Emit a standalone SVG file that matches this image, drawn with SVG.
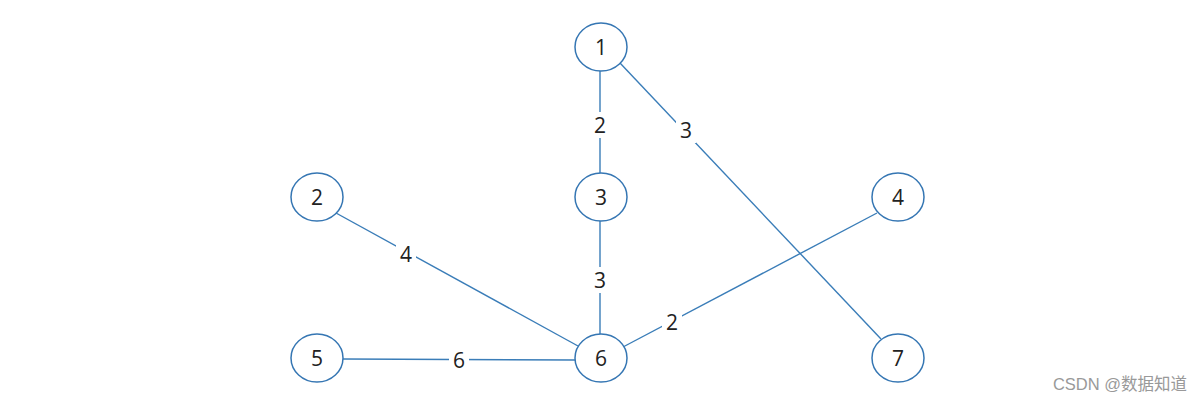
<svg xmlns="http://www.w3.org/2000/svg" width="1202" height="404" viewBox="0 0 1202 404">
<style>
.n ellipse{fill:#fff;stroke:#3576b3;stroke-width:1.5}
.n text,.lbl text{font-family:"Open Sans","Noto Sans",sans-serif;font-size:21px;fill:#222;text-anchor:middle;dominant-baseline:central}
.e line{stroke:#3a7db8;stroke-width:1.4}
.lbl rect{fill:#fff}
</style>
<rect width="1202" height="404" fill="#fff"/>
<g id="connectors">
<g class="e">
<line x1="600" y1="71" x2="600" y2="173"/>
<line x1="620" y1="63" x2="881" y2="339"/>
<line x1="336" y1="213" x2="578" y2="346"/>
<line x1="600" y1="221" x2="600" y2="334"/>
<line x1="623" y1="347" x2="877" y2="213"/>
<line x1="343" y1="359" x2="575" y2="360"/>
</g>
<g class="lbl">
<rect x="590" y="112" width="20" height="26"/><text x="600" y="125">2</text>
<rect x="676" y="117" width="20" height="26"/><text x="686" y="130">3</text>
<rect x="396" y="241" width="20" height="26"/><text x="406" y="254">4</text>
<rect x="590" y="267" width="20" height="26"/><text x="600" y="280">3</text>
<rect x="662" y="309" width="20" height="26"/><text x="672" y="322">2</text>
<rect x="449" y="347" width="20" height="26"/><text x="459" y="360">6</text>
</g>
</g>
<g id="node1" class="n"><ellipse cx="601" cy="47" rx="26" ry="24"/><text x="601" y="47">1</text></g>
<g id="node3" class="n"><ellipse cx="601" cy="197" rx="26" ry="24"/><text x="601" y="197">3</text></g>
<g id="node2" class="n"><ellipse cx="317" cy="197" rx="26" ry="24"/><text x="317" y="197">2</text></g>
<g id="node4" class="n"><ellipse cx="898" cy="197" rx="26" ry="24"/><text x="898" y="197">4</text></g>
<g id="node5" class="n"><ellipse cx="317" cy="358" rx="26" ry="24"/><text x="317" y="358">5</text></g>
<g id="node6" class="n"><ellipse cx="601" cy="358" rx="26" ry="24"/><text x="601" y="358">6</text></g>
<g id="node7" class="n"><ellipse cx="898" cy="358" rx="26" ry="24"/><text x="898" y="358">7</text></g>
<text x="1187" y="390" text-anchor="end" font-family="'Liberation Sans','Noto Sans CJK SC',sans-serif" font-size="16.5" fill="#999">CSDN @数据知道</text>
</svg>
